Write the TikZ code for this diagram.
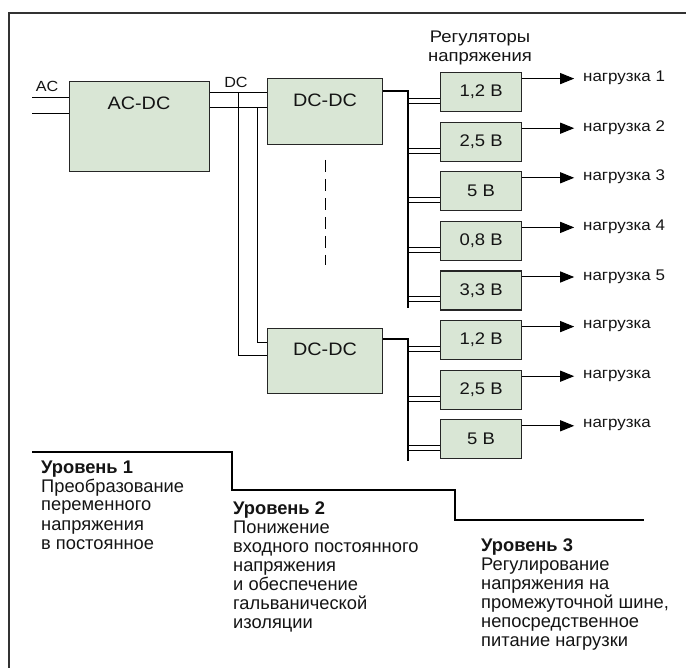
\documentclass[tikz,border=0pt]{standalone}
\usepackage{fontspec}
\setmainfont{Liberation Sans}[FakeStretch=1.1]
\newfontfamily\plainsans{Liberation Sans}
\usetikzlibrary{arrows.meta}
\definecolor{boxfill}{RGB}{217,230,213}
\definecolor{framegray}{RGB}{50,50,50}
\definecolor{txt}{RGB}{20,20,20}
\begin{document}
\begin{tikzpicture}[x=1pt,y=-1pt,
  bigbox/.style={draw=black!85, line width=1.2pt, fill=boxfill, inner sep=0pt, anchor=north west},
  regbox/.style={draw=black!85, line width=1.2pt, fill=boxfill, inner sep=0pt, anchor=north west,
    minimum width=81pt, minimum height=39pt, font=\fontsize{16.8}{19}\selectfont, text=txt},
  bigtext/.style={font=\fontsize{18}{21}\selectfont, text=txt, inner sep=0pt},
  smalltext/.style={font=\fontsize{15.4}{18}\selectfont, text=txt, inner sep=0pt},
  wire/.style={line width=1pt, black},
  bus/.style={line width=2.4pt, black},
  outarrow/.style={line width=1pt, black, -{Triangle[length=14pt,width=11pt]}},
  lvltext/.style={font=\plainsans\fontsize{18.3}{19}\selectfont, text=txt, inner sep=0pt, anchor=base west},
  lvlhead/.style={font=\plainsans\bfseries\fontsize{18.3}{19}\selectfont, text=txt, inner sep=0pt, anchor=base west}
]
\useasboundingbox (0,0) rectangle (686,668);
% frame
\draw[line width=2pt, framegray] (686,13) -- (9,13) -- (9,668);

% main blocks
\node[bigbox, minimum width=140pt, minimum height=90pt] (acdc) at (69,81) {};
\node[bigtext] (acdcT) at (139,103) {AC-DC};
\node[bigbox, minimum width=115pt, minimum height=66pt] (dcdc1) at (267,78) {};
\node[bigtext] (dcdc1T) at (325,100) {DC-DC};
\node[bigbox, minimum width=115pt, minimum height=65pt] (dcdc2) at (267,328) {};
\node[bigtext] (dcdc2T) at (325,349) {DC-DC};

% AC input
\coordinate (acin1) at (32,98);
\coordinate (acin2) at (32,114);
\draw[wire] (acin1) -- (acin1 -| acdc.west);
\draw[wire] (acin2) -- (acin2 -| acdc.west);
\node[smalltext, font=\fontsize{14.7}{18}\selectfont] (aclab) at (47,86) {AC};

% DC link
\coordinate (dcA) at (238,93);
\coordinate (dcB) at (257,108);
\coordinate (dcA2) at (238,356);
\coordinate (dcB2) at (257,343);
\draw[wire] (acdc.east |- dcA) -- (dcdc1.west |- dcA);
\draw[wire] (acdc.east |- dcB) -- (dcdc1.west |- dcB);
\draw[wire] (dcA) -- (dcA2) -- (dcA2 -| dcdc2.west);
\draw[wire] (dcB) -- (dcB2) -- (dcB2 -| dcdc2.west);
\node[smalltext, font=\fontsize{14.7}{18}\selectfont] (dclab) at (236,82) {DC};

% dashed continuation
\coordinate (dash1) at (325,160);
\coordinate (dash2) at (325,265);
\draw[line width=0.9pt, dash pattern=on 12pt off 7pt] (dash1) -- (dash2);

% buses
\coordinate (bus1top) at (408,91);
\coordinate (bus1bot) at (408,308);
\coordinate (bus2top) at (408,339);
\coordinate (bus2bot) at (408,461);
\draw[bus] (dcdc1.east |- bus1top) -- (bus1top) -- (bus1bot);
\draw[bus] (dcdc2.east |- bus2top) -- (bus2top) -- (bus2bot);

% header
\node[smalltext, font=\fontsize{16.8}{19}\selectfont, align=center] (reghead) at (480,47.5) {Регуляторы\\напряжения};

% regulators
\foreach \i/\v/\l in {0/{1,2 В}/{нагрузка 1}, 1/{2,5 В}/{нагрузка 2}, 2/{5 В}/{нагрузка 3},
                      3/{0,8 В}/{нагрузка 4}, 4/{3,3 В}/{нагрузка 5}, 5/{1,2 В}/{нагрузка},
                      6/{2,5 В}/{нагрузка}, 7/{5 В}/{нагрузка}} {
  \pgfmathsetmacro{\top}{72+\i*49.6}
  \node[regbox] (r\i) at (440,\top) {\v};
  \draw[wire] ([yshift=-6.5pt]r\i.west) -- ++(-32,0);
  \draw[wire] ([yshift=-11.5pt]r\i.west) -- ++(-32,0);
  \draw[outarrow] ([yshift=13.5pt]r\i.east) -- ++(52,0) coordinate (o\i);
  \node[smalltext, anchor=west] (n\i) at (583,\top+6) {\l};
}

% level staircase
\draw[line width=2.4pt, black] (32,452) -- (232,452) -- (232,490) -- (455,490) -- (455,520) -- (644,520);

% level texts
\node[lvlhead] (l1h) at (41,473) {Уровень 1};
\foreach \t [count=\k] in {Преобразование, переменного, напряжения, в постоянное}
  \node[lvltext] (l1-\k) at (41,473+\k*19) {\t};
\node[lvlhead] (l2h) at (233,514) {Уровень 2};
\foreach \t [count=\k] in {Понижение, входного постоянного, напряжения, и обеспечение, гальванической, изоляции}
  \node[lvltext] (l2-\k) at (233,514+\k*19) {\t};
\node[lvlhead] (l3h) at (481,551) {Уровень 3};
\foreach \t [count=\k] in {Регулирование, напряжения на, {промежуточной шине,}, непосредственное, питание нагрузки}
  \node[lvltext] (l3-\k) at (481,551+\k*19) {\t};
\end{tikzpicture}
\end{document}
